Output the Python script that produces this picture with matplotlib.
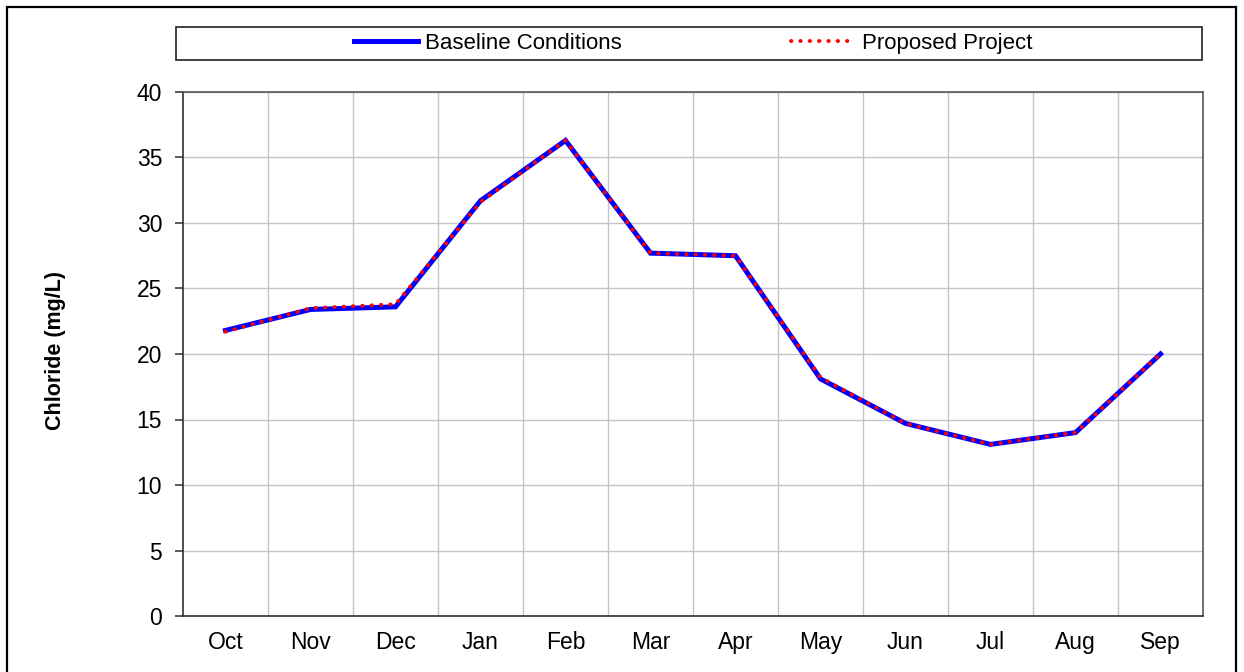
import numpy as np
import matplotlib.pyplot as plt
from matplotlib.patches import Rectangle

months = ["Oct", "Nov", "Dec", "Jan", "Feb", "Mar", "Apr", "May", "Jun", "Jul", "Aug", "Sep"]
baseline = [21.8, 23.4, 23.6, 31.7, 36.3, 27.7, 27.5, 18.1, 14.7, 13.1, 14.0, 20.0]
proposed = [21.7, 23.5, 23.8, 31.6, 36.3, 27.7, 27.5, 18.2, 14.7, 13.1, 14.0, 20.0]
yticks = [0, 5, 10, 15, 20, 25, 30, 35, 40]

plt.rcParams['font.family'] = ['Liberation Sans', 'DejaVu Sans']

W, H = 1244, 672
fig = plt.figure(figsize=(W / 100, H / 100), dpi=100)
ax = fig.add_axes([183 / W, 1 - 616 / H, (1203 - 183) / W, (616 - 92) / H])

x = np.arange(len(months))
ax.plot(x, baseline, color="#0000FF", lw=3.6, solid_joinstyle="miter",
        label="Baseline Conditions", zorder=3)
ax.plot(x, proposed, color="#FF0000", lw=2.8, linestyle=(0, (0.1, 2.3)),
        dash_capstyle="round", label="Proposed Project", zorder=4)

ax.set_xlim(-0.5, len(months) - 0.5)
ax.set_ylim(0, 40)
ax.set_yticks(yticks)
ax.set_xticks(x)
ax.set_xticklabels(months)
ax.set_xticks(np.arange(len(months) - 1) + 0.5, minor=True)

ax.grid(False)
ax.grid(True, which="minor", axis="x", color="#c4c4c4", lw=1)
ax.grid(True, which="major", axis="y", color="#c4c4c4", lw=1)
ax.set_axisbelow(True)

ax.tick_params(axis="x", which="both", length=0, pad=11, labelsize=16.5)
ax.tick_params(axis="y", length=6, width=1.2, color="#404040", pad=9, labelsize=16.5)

for s in ax.spines.values():
    s.set_color("#555555")
    s.set_linewidth(1.2)
ax.spines["left"].set_color("#303030")
ax.spines["bottom"].set_color("#303030")

ax.set_ylabel("Chloride (mg/L)", fontsize=15.5, fontweight="bold")
ax.yaxis.set_label_coords(-(183 - 66) / (1203 - 183), (616 - 350) / (616 - 92))

leg = fig.legend(loc="center", bbox_to_anchor=(693 / W, 1 - 43.5 / H), ncol=2,
                 frameon=False, fontsize=16, handlelength=2.9,
                 handletextpad=0.3, columnspacing=7.6)

# legend box
fig.patches.append(Rectangle((176 / W, 1 - 60 / H), (1202 - 176) / W, 33 / H,
                             transform=fig.transFigure, fill=False,
                             edgecolor="#202020", lw=1.2))
# outer frame
fig.patches.append(Rectangle((7 / W, -0.05), (1236 - 7) / W, 1.05 - 7 / H,
                             transform=fig.transFigure, fill=False,
                             edgecolor="black", lw=1.6))

fig.savefig("out.png", dpi=100)
